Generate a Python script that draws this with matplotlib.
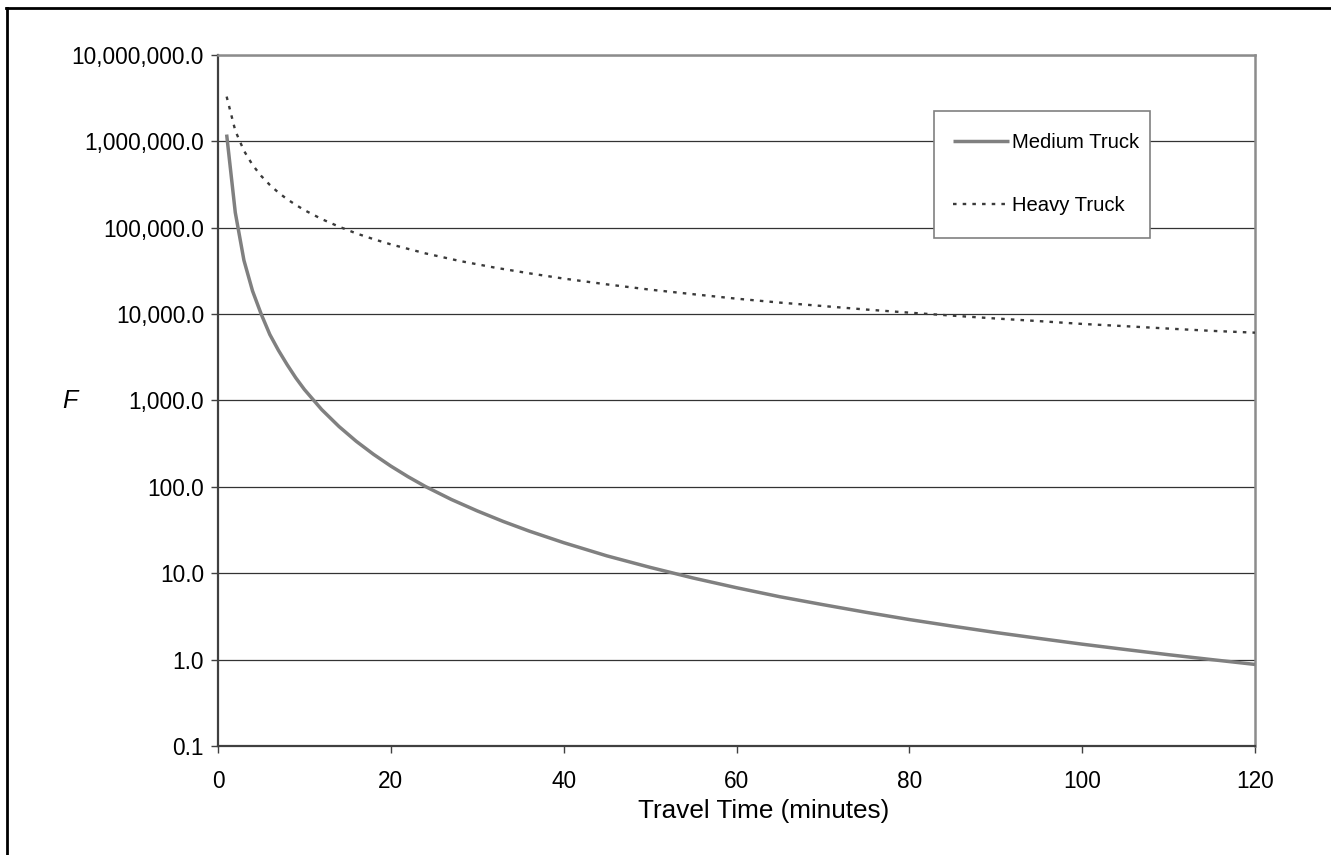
import matplotlib
matplotlib.use("Agg")
import matplotlib.pyplot as plt
from matplotlib.lines import Line2D
from matplotlib.patches import Rectangle
from matplotlib.ticker import FuncFormatter, FixedLocator, NullLocator

plt.rcParams['font.family'] = ['Liberation Sans', 'DejaVu Sans']

# values
medium_t = [1, 2, 3, 4, 5, 6, 7, 8, 9, 10, 12, 14, 16, 18, 20, 22, 24, 27, 30, 33,
            36, 40, 45, 50, 55, 60, 65, 70, 75, 80, 85, 90, 95, 100, 105, 110, 115, 120]
medium_f = [1200000, 150000, 42000, 18500, 10000, 5800, 3800, 2600, 1830, 1340,
            785, 500, 337, 238, 174, 131, 101, 71.5, 52.7, 39.8,
            30.8, 22.6, 15.9, 11.7, 8.8, 6.8, 5.35, 4.33, 3.53, 2.91,
            2.44, 2.06, 1.76, 1.51, 1.31, 1.14, 1.0, 0.88]

heavy_t = [1, 2, 3, 4, 5, 6, 7, 8, 9, 10, 12, 14, 16, 18, 20, 24, 28, 32, 36, 40,
           45, 50, 55, 60, 65, 70, 75, 80, 85, 90, 95, 100, 105, 110, 115, 120]
heavy_f = [3300000, 1330000, 780000, 533000, 398000, 313000, 255000, 214000, 184000, 160000,
           126000, 103000, 86000, 73800, 64200, 50500, 41200, 34600, 29700, 25800,
           22100, 19200, 17000, 15100, 13600, 12400, 11300, 10400, 9600, 8900,
           8300, 7700, 7250, 6800, 6400, 6100]

y_ticks = [0.1, 1, 10, 100, 1000, 10000, 100000, 1000000, 10000000]
x_ticks = [0, 20, 40, 60, 80, 100, 120]

W, H = 1331, 855
fig = plt.figure(figsize=(W / 100, H / 100), dpi=100)
ax = fig.add_axes([218 / W, 1 - 746 / H, (1255 - 218) / W, (746 - 55) / H])

ax.plot(medium_t, medium_f, color='#808080', lw=2.5, solid_capstyle='butt',
        label='Medium Truck', zorder=3)
ax.plot(heavy_t, heavy_f, color='#3a3a3a', lw=1.7, linestyle=(0, (1.5, 2.6)),
        label='Heavy Truck', zorder=3)

ax.set_yscale('log')
ax.set_ylim(0.1, 10000000)
ax.set_xlim(0, 120)
ax.yaxis.set_major_locator(FixedLocator(y_ticks))
ax.yaxis.set_minor_locator(NullLocator())
ax.yaxis.set_major_formatter(FuncFormatter(lambda v, p: '{:,.1f}'.format(v)))
ax.set_xticks(x_ticks)

ax.grid(axis='y', color='#333333', lw=0.9)
ax.set_axisbelow(True)

ax.tick_params(axis='y', direction='out', length=5, width=1, color='#404040',
               labelsize=16.3, pad=5)
ax.tick_params(axis='x', direction='out', length=5, width=1, color='#404040',
               labelsize=16.3, pad=12)

for side in ['left', 'bottom']:
    ax.spines[side].set_color('#404040')
    ax.spines[side].set_linewidth(1.6)
for side in ['top', 'right']:
    ax.spines[side].set_color('#8c8c8c')
    ax.spines[side].set_linewidth(1.8)

# axis titles sit where the original put them
fig.text(764 / W, 1 - 811 / H, 'Travel Time (minutes)', fontsize=18.8,
         ha='center', va='center')
fig.text(70 / W, 1 - 401 / H, 'F', fontsize=18, style='italic',
         ha='center', va='center')

# legend entries, with the box drawn separately (inside the axes so it stays under the legend)
box = Rectangle((934 / W, 1 - 238.3 / H), (1150 - 934) / W, (238.3 - 110.7) / H,
                transform=fig.transFigure, facecolor='white',
                edgecolor='#808080', lw=1.2, zorder=4, clip_on=False)
ax.add_patch(box)
leg = ax.legend(loc='center left', bbox_to_anchor=(953 / W, 1 - 174 / H),
                bbox_transform=fig.transFigure, borderaxespad=0, borderpad=0,
                fontsize=14.6, frameon=False,
                handlelength=2.75, handletextpad=0.15, labelspacing=2.2)
leg.set_zorder(5)

# outer frame of the picture: top and left edges only
fig.add_artist(Line2D([6 / W, 1], [1 - 8 / H, 1 - 8 / H],
                      transform=fig.transFigure, color='black', lw=2))
fig.add_artist(Line2D([7 / W, 7 / W], [0, 1 - 8 / H],
                      transform=fig.transFigure, color='black', lw=2))

fig.savefig('out.png', dpi=100)
